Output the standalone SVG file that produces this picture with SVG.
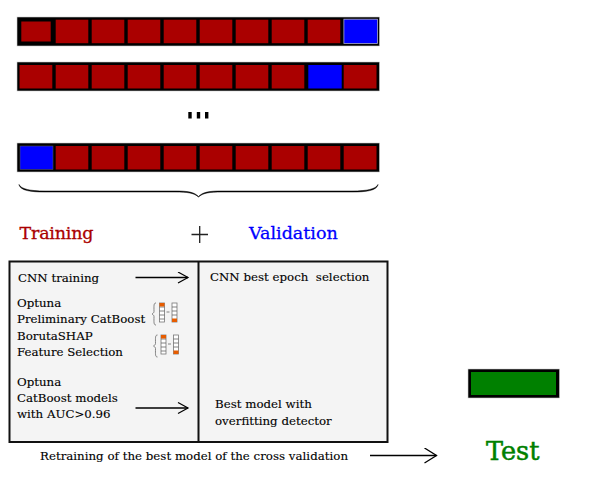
<svg xmlns="http://www.w3.org/2000/svg" width="595" height="479" viewBox="0 0 595 479">
<style>
text{font-family:"DejaVu Serif","Liberation Serif",serif;fill:#000}
.t{font-size:11.800px;stroke:#000;stroke-width:.12}
.h{font-size:17.500px;stroke-width:.3}
.bar{fill:#000;stroke:#ccc;stroke-width:.6}
.r{fill:#a00}
.b{fill:#00f}
.l{fill:none;stroke:#000;stroke-width:1.3}
.g{fill:none;stroke:#666;stroke-width:.8}
.c{fill:#fff;stroke:#777;stroke-width:.8}
.o{fill:#e65c00}
</style>
<defs>
<g id="cells">
<rect class="r" x="55.700" width="32.600" height="23.500"/><rect class="r" x="91.700" width="32.600" height="23.500"/><rect class="r" x="127.700" width="32.600" height="23.500"/><rect class="r" x="163.700" width="32.600" height="23.500"/><rect class="r" x="199.700" width="32.600" height="23.500"/><rect class="r" x="235.700" width="32.600" height="23.500"/><rect class="r" x="271.700" width="32.600" height="23.500"/>
</g>
<g id="mini">
<path class="g" d="M5 0C2.500 0 3 3 3 8.500C3 10 1.500 10.500 1 11C1.500 11.500 3 12 3 13.500C3 19 2.500 22 5 22"/>
<rect class="c" x="8.500" y="0" width="5" height="19"/><path class="g" d="M8.500 4h5M8.500 8h5M8.500 12h5M8.500 16h5"/><rect class="o" x="8.500" y="0" width="5" height="3.500"/>
<path class="g" d="M15.500 9h3"/>
<rect class="c" x="21" y="0" width="5" height="19"/><path class="g" d="M21 4h5M21 8h5M21 12h5"/><rect class="o" x="21" y="15.500" width="5" height="3.500"/>
</g>
<marker id="a" markerWidth="14" markerHeight="14" refX="11" refY="6" orient="auto" markerUnits="userSpaceOnUse"><path d="M1 0.500L11 6L1 11.500" fill="none" stroke="#000" stroke-width="1.200"/></marker>
<marker id="a2" markerWidth="16" markerHeight="18" refX="13" refY="8" orient="auto" markerUnits="userSpaceOnUse"><path d="M1 0.500L13 8L1 15.500" fill="none" stroke="#000" stroke-width="1.300"/></marker>
</defs>
<g id="fold-1">
<rect class="bar" x="17" y="17" width="362.500" height="29"/>
<rect class="r" x="21.300" y="21.500" width="29.400" height="20"/>
<use href="#cells" y="19.700"/>
<rect class="r" x="307.700" y="19.700" width="32.600" height="23.500"/>
<rect class="b" x="343.900" y="19.200" width="33.600" height="24.300" stroke="#aac" stroke-width=".8"/>
</g>
<g id="fold-2">
<rect class="bar" x="17" y="62" width="362.500" height="29"/>
<rect class="r" x="19.500" y="65" width="32.800" height="23.500"/>
<use href="#cells" y="65"/>
<rect class="b" x="308.300" y="65" width="33.400" height="23.500"/>
<rect class="r" x="343.700" y="65" width="32.800" height="23.500"/>
</g>
<g id="dots"><rect x="188.300" y="112" width="3.400" height="6.500"/><rect x="196.800" y="112" width="3.400" height="6.500"/><rect x="205" y="112" width="3.400" height="6.500"/></g>
<g id="fold-10">
<rect class="bar" x="17" y="143" width="362.500" height="29"/>
<rect class="b" x="20" y="146" width="33" height="23.500" stroke="#555" stroke-width=".6"/>
<use href="#cells" y="146"/>
<rect class="r" x="307.700" y="146" width="32.600" height="23.500"/>
<rect class="r" x="343.700" y="146" width="32.800" height="23.500"/>
</g>
<path id="brace" d="M19 184.500C21 189 30 191 45 191H175C188 191 194 192 198.500 196.500C203 192 209 191 222 191H352C367 191 376 189 378 184.500L378 185C376 190.500 367 192 352 192H222C209 192 203 193 198.500 197C194 193 188 192 175 192H45C30 192 21 190.500 19 185Z" fill="#000" stroke="#000" stroke-width=".5"/>
<text id="training" class="h" x="19.500" y="239" textLength="74" style="fill:#a00;stroke:#a00">Training</text>
<g id="plus"><path d="M191.500 234.500H208M199.700 226V243" stroke="#222" stroke-width="1.300" fill="none"/></g>
<text id="validation" class="h" x="249" y="239" style="fill:#00f;stroke:#00f">Validation</text>
<g id="panel">
<rect x="9.500" y="261.500" width="378" height="180.500" fill="#f4f4f4" stroke="#111" stroke-width="2"/>
<path d="M198.500 261.500V442" stroke="#111" stroke-width="2"/>
</g>
<g id="labels">
<text class="t" x="18" y="282">CNN training</text>
<text class="t" x="210" y="281">CNN best epoch&#160; selection</text>
<text class="t" x="17" y="307">Optuna</text>
<text class="t" x="17" y="323">Preliminary CatBoost</text>
<text class="t" x="17" y="340">BorutaSHAP</text>
<text class="t" x="17" y="356">Feature Selection</text>
<text class="t" x="17" y="386">Optuna</text>
<text class="t" x="17" y="402">CatBoost models</text>
<text class="t" x="17" y="418">with AUC&gt;0.96</text>
<text class="t" x="215" y="408">Best model with</text>
<text class="t" x="215" y="425">overfitting detector</text>
<text class="t" x="40" y="460" textLength="308">Retraining of the best model of the cross validation</text>
</g>
<g id="minis"><use href="#mini" x="151" y="303"/><use href="#mini" x="152.500" y="335"/></g>
<g id="connectors">
<path class="l" d="M135.500 277.500H188" marker-end="url(#a)"/>
<path class="l" d="M135.500 408H188" marker-end="url(#a)"/>
<path class="l" d="M370 455.500H436.500" marker-end="url(#a2)"/>
</g>
<g id="test-bar"><rect x="468" y="369" width="91.500" height="29" fill="#000" stroke="#ccc" stroke-width=".6"/><rect x="471" y="372" width="85" height="23" fill="#008000"/></g>
<text id="test" x="486" y="460" font-size="25.500" style="fill:#008000;stroke:#008000;stroke-width:.5">Test</text>
</svg>
